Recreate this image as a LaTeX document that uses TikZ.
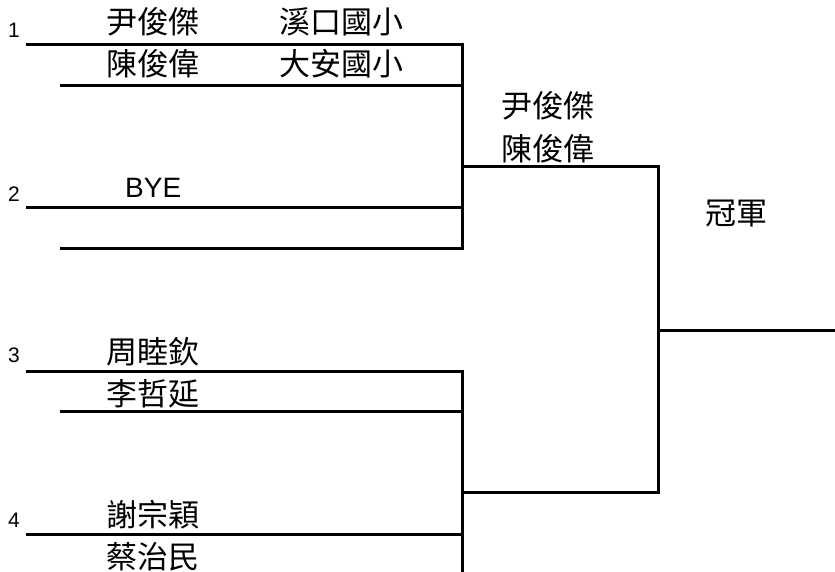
\documentclass[tikz,border=0pt]{standalone}
\usepackage{fontspec}
\setmainfont{Liberation Sans}
\newfontfamily\cjk{Noto Sans CJK TC}
\begin{document}
\begin{tikzpicture}[x=1pt,y=-1pt,
  bline/.style={line width=3pt},
  nmtext/.style={anchor=base west,inner sep=0pt,font=\cjk\fontsize{31}{31}\selectfont},
  lattext/.style={anchor=base west,inner sep=0pt,font=\fontsize{28}{28}\selectfont},
  seedtext/.style={anchor=base west,inner sep=0pt,font=\fontsize{21}{21}\selectfont}]
\useasboundingbox (0,0) rectangle (835,572);
\clip (0,0) rectangle (835,572);
% coordinates
\coordinate (a1s) at (26,45);  \coordinate (a1e) at (462,45);
\coordinate (a2s) at (60,86);  \coordinate (a2e) at (462,86);
\coordinate (b1s) at (26,208); \coordinate (b1e) at (462,208);
\coordinate (b2s) at (60,248); \coordinate (b2e) at (462,248);
\coordinate (c1s) at (26,371); \coordinate (c1e) at (462,371);
\coordinate (c2s) at (60,411); \coordinate (c2e) at (462,411);
\coordinate (d1s) at (26,534); \coordinate (d1e) at (462,534);
\coordinate (dend) at (462,580);
\coordinate (j1) at (462,167); \coordinate (k1) at (658,167);
\coordinate (j2) at (462,492); \coordinate (k2) at (658,492);
\coordinate (w) at (658,330);  \coordinate (wend) at (840,330);
% lines
\draw[bline] (a1s) -- (a1e);
\draw[bline] (a2s) -- (a2e);
\draw[bline] (b1s) -- (b1e);
\draw[bline] (b2s) -- (b2e);
\draw[bline] (c1s) -- (c1e);
\draw[bline] (c2s) -- (c2e);
\draw[bline] (d1s) -- (d1e);
\draw[bline] ([yshift=1.5pt]a1e) -- ([yshift=-1.5pt]b2e);
\draw[bline] ([yshift=1.5pt]c1e) -- (dend);
\draw[bline] (j1) -- ([xshift=1.5pt]k1);
\draw[bline] (j2) -- ([xshift=1.5pt]k2);
\draw[bline] ([yshift=1.5pt]k1) -- ([yshift=-1.5pt]k2);
\draw[bline] (w) -- (wend);
% seeds
\node[seedtext] (s1) at (8,38) {1};
\node[seedtext] (s2) at (8,202) {2};
\node[seedtext] (s3) at (8,362) {3};
\node[seedtext] (s4) at (8,527) {4};
% names
\node[nmtext] (n1) at (106.5,34) {尹俊傑};
\node[nmtext] (o1) at (279,34) {溪口國小};
\node[nmtext] (n2) at (106.5,76) {陳俊偉};
\node[nmtext] (o2) at (279,76) {大安國小};
\node[lattext] (bye) at (125,198) {BYE};
\node[nmtext] (n3) at (106.5,363) {周睦欽};
\node[nmtext] (n4) at (106.5,405) {李哲延};
\node[nmtext] (n5) at (106.5,526) {謝宗穎};
\node[nmtext] (n6) at (106.5,568) {蔡治民};
\node[nmtext] (w1) at (501.5,118) {尹俊傑};
\node[nmtext] (w2) at (501.5,161) {陳俊偉};
\node[nmtext] (champ) at (705.5,225) {冠軍};
\end{tikzpicture}
\end{document}
